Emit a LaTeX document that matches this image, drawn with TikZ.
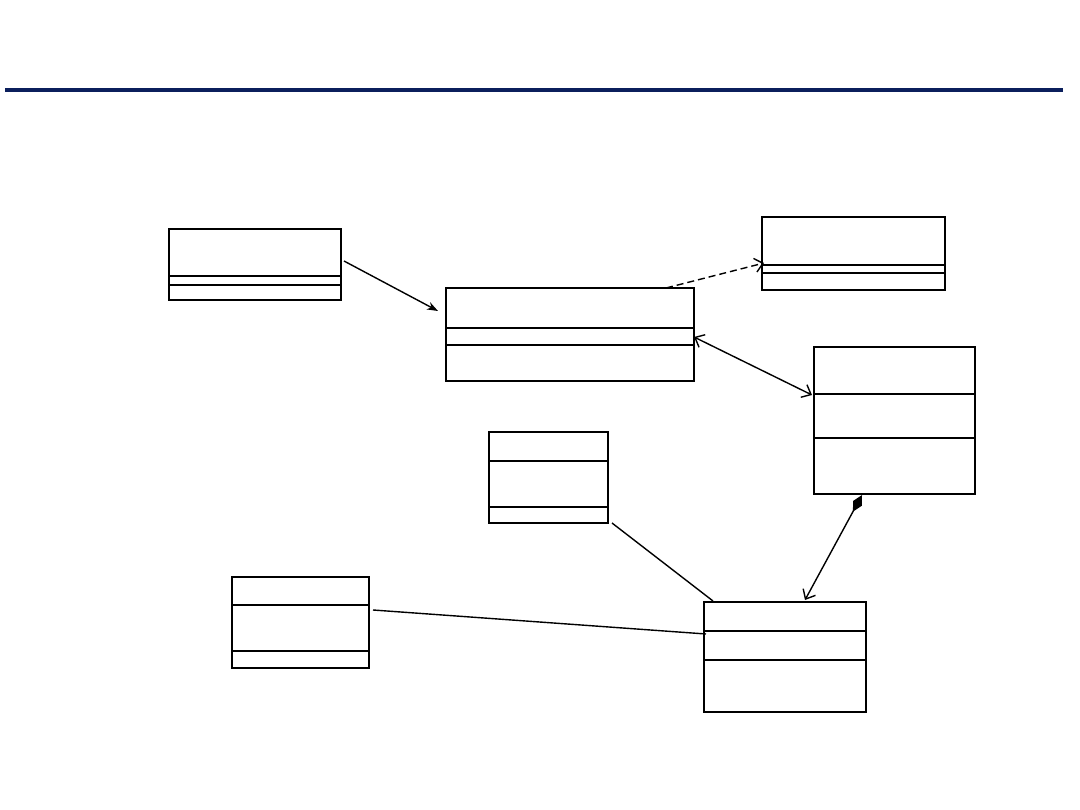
\documentclass[tikz,border=0pt]{standalone}
\usetikzlibrary{arrows.meta,calc}
\definecolor{navy}{HTML}{0B1F5C}
\tikzset{
  cls/.style={draw=black, line width=1.8pt, fill=white, inner sep=0pt},
  sep/.style={line width=1.4pt},
  conn/.style={line width=1.4pt},
  barb/.tip={Straight Barb[length=8pt,width=14pt,line width=1.4pt]},
  open/.style={-barb},
  solid arrow/.style={-{Stealth[length=11pt,width=8pt]}},
}
\newcommand{\clsbox}[5]{% name, x1, y1, x2, y2
  \node[cls, anchor=north west, minimum width=#4-#2, minimum height=#5-#3] (#1) at (#2,#3) {};
}
\begin{document}
\begin{tikzpicture}[x=1pt,y=-1pt]
\useasboundingbox (0,0) rectangle (1080,810);
\fill[navy] (5,88) rectangle (1063,92);

\clsbox{A}{168}{228}{340}{299}
\draw[sep] (A.west |- 0,276) -- (A.east |- 0,276);
\draw[sep] (A.west |- 0,285) -- (A.east |- 0,285);

\clsbox{B}{445}{287}{693}{380}
\draw[sep] (B.west |- 0,328) -- (B.east |- 0,328);
\draw[sep] (B.west |- 0,345) -- (B.east |- 0,345);

\clsbox{C}{761}{216}{944}{289}
\draw[sep] (C.west |- 0,265) -- (C.east |- 0,265);
\draw[sep] (C.west |- 0,273) -- (C.east |- 0,273);

\clsbox{D}{813}{346}{974}{493}
\draw[sep] (D.west |- 0,394) -- (D.east |- 0,394);
\draw[sep] (D.west |- 0,438) -- (D.east |- 0,438);

\clsbox{E}{488}{431}{607}{522}
\draw[sep] (E.west |- 0,461) -- (E.east |- 0,461);
\draw[sep] (E.west |- 0,507) -- (E.east |- 0,507);

\clsbox{F}{231}{576}{368}{667}
\draw[sep] (F.west |- 0,605) -- (F.east |- 0,605);
\draw[sep] (F.west |- 0,651) -- (F.east |- 0,651);

\clsbox{G}{703}{601}{865}{711}
\draw[sep] (G.west |- 0,631) -- (G.east |- 0,631);
\draw[sep] (G.west |- 0,660) -- (G.east |- 0,660);

% connector end points
\coordinate (a1) at (344,261);
\coordinate (b1) at (438,311);
\coordinate (b2) at (666,288);
\coordinate (c1) at (764,263);
\coordinate (b3) at (694,337);
\coordinate (d1) at (812,395);
\coordinate (d2) at (862,495);
\coordinate (g1) at (805,600);
\coordinate (e1) at (612,523);
\coordinate (g2) at (713,601);
\coordinate (f1) at (373,610);
\coordinate (g3) at (706,634);

\draw[conn, solid arrow] (a1) -- (b1);
\draw[conn, open, dashed, dash pattern=on 7pt off 4pt] (b2) -- (c1);
\draw[conn, barb-barb] (b3) -- (d1);
\draw[conn, {Diamond[length=19pt,width=10pt,fill=black]}-barb] (d2) -- (g1);
\draw[conn] (e1) -- (g2);
\draw[conn] (f1) -- (g3);
\end{tikzpicture}
\end{document}
